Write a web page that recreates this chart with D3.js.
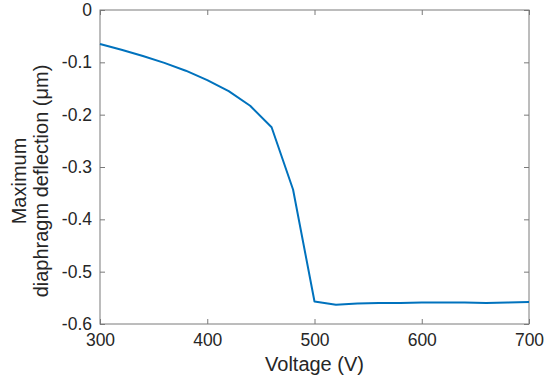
<!DOCTYPE html>
<html>
<head>
<meta charset="utf-8">
<script src="https://cdn.jsdelivr.net/npm/d3@7"></script>
<style>
  body { margin: 0; background: #fff; }
  text { font-family: "Liberation Sans", Arial, sans-serif; fill: #262626; }
</style>
</head>
<body>
<script>
var width = 550, height = 382;

var voltage = [300, 320, 340, 360, 380, 400, 420, 440, 460, 480, 500, 520, 540, 560, 580, 600, 620, 640, 660, 680, 700];
var deflection = [-0.065, -0.076, -0.088, -0.101, -0.116, -0.134, -0.155, -0.183, -0.224, -0.343, -0.557, -0.563, -0.561, -0.560, -0.560, -0.559, -0.559, -0.559, -0.560, -0.559, -0.558];
var xTicks = [300, 400, 500, 600, 700];
var yTicks = [0, -0.1, -0.2, -0.3, -0.4, -0.5, -0.6];

var margin = {left: 100, top: 10, right: 21, bottom: 58};

var svg = d3.select('body').append('svg').attr('width', width).attr('height', height);

var x = d3.scaleLinear().domain([300, 700]).range([margin.left, width - margin.right]);
var y = d3.scaleLinear().domain([-0.6, 0]).range([height - margin.bottom, margin.top]);

var axisColor = '#7a7a7a';

// ticks on all four sides, pointing inward
function styleAxis(g) {
  g.select('.domain').remove();
  g.selectAll('.tick line').attr('stroke', axisColor);
  g.selectAll('.tick text').style('font-size', '17.5px').attr('fill', '#262626');
}

svg.append('g').attr('transform', 'translate(0,' + y(-0.6) + ')')
  .call(d3.axisBottom(x).tickValues(xTicks).tickSize(-5).tickPadding(10).tickFormat(d3.format('d')))
  .call(styleAxis);
svg.append('g').attr('transform', 'translate(0,' + y(0) + ')')
  .call(d3.axisTop(x).tickValues(xTicks).tickSize(-5).tickFormat(''))
  .call(styleAxis);
svg.append('g').attr('transform', 'translate(' + x(300) + ',0)')
  .call(d3.axisLeft(y).tickValues(yTicks).tickSize(-5).tickPadding(8).tickFormat(function(d) { return d === 0 ? '0' : d.toFixed(1); }))
  .call(styleAxis);
svg.append('g').attr('transform', 'translate(' + x(700) + ',0)')
  .call(d3.axisRight(y).tickValues(yTicks).tickSize(-5).tickFormat(''))
  .call(styleAxis);

// box
svg.append('rect')
  .attr('x', x(300)).attr('y', y(0))
  .attr('width', x(700) - x(300)).attr('height', y(-0.6) - y(0))
  .attr('fill', 'none').attr('stroke', axisColor).attr('stroke-width', 1);

var line = d3.line().x(function(d, i) { return x(voltage[i]); }).y(function(d) { return y(d); });

svg.append('path').datum(deflection)
  .attr('d', line)
  .attr('fill', 'none')
  .attr('stroke', '#0072BD')
  .attr('stroke-width', 2)
  .attr('stroke-linejoin', 'round');

svg.append('text')
  .attr('x', (x(300) + x(700)) / 2).attr('y', 371)
  .attr('text-anchor', 'middle').style('font-size', '20px')
  .text('Voltage (V)');

var ylab = svg.append('text')
  .attr('transform', 'translate(0,181) rotate(-90)')
  .attr('text-anchor', 'middle').style('font-size', '20px');
ylab.append('tspan').attr('x', 0).attr('y', 26).text('Maximum');
ylab.append('tspan').attr('x', 0).attr('y', 48).text('diaphragm deflection (μm)');
</script>
</body>
</html>
